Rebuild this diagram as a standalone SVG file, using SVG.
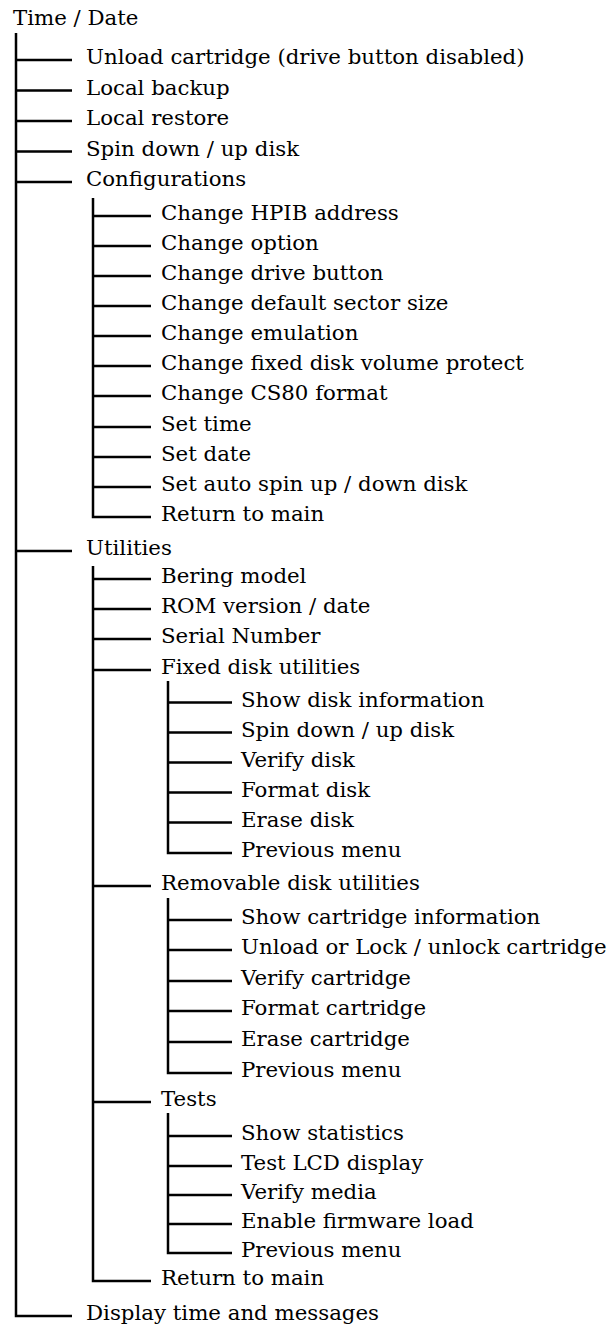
<svg xmlns="http://www.w3.org/2000/svg" width="616" height="1327" viewBox="0 0 616 1327">
<style>
text{font-family:"DejaVu Serif","Liberation Serif",serif;font-size:21.3px;fill:#000}
.c{stroke:#000;stroke-width:2.5;fill:none}
</style>
<rect width="616" height="1327" fill="#fff"/>
<g id="connectors" class="c">
<path d="M16,33V1316H72M16,60H72M16,90.5H72M16,121H72M16,151.5H72M16,182H72M16,551H72"/>
<path d="M93,198V517H151M93,216H151M93,246H151M93,276H151M93,306H151M93,336H151M93,366H151M93,396H151M93,427H151M93,457H151M93,487H151"/>
<path d="M93,566V1281H151M93,579H151M93,609H151M93,639H151M93,670H151M93,886H151M93,1102H151"/>
<path d="M168,681V853H232M168,702.5H232M168,732.5H232M168,762.5H232M168,792.5H232M168,822.5H232"/>
<path d="M168,898V1073H232M168,920H232M168,950H232M168,981H232M168,1011H232M168,1042H232"/>
<path d="M168,1113V1253H232M168,1136H232M168,1166H232M168,1195H232M168,1224H232"/>
</g>
<g id="root"><text x="13" y="25">Time / Date</text></g>
<g id="n1"><text x="86" y="64">Unload cartridge (drive button disabled)</text></g>
<g id="n2"><text x="86" y="94.5">Local backup</text></g>
<g id="n3"><text x="86" y="125">Local restore</text></g>
<g id="n4"><text x="86" y="155.5">Spin down / up disk</text></g>
<g id="n5"><text x="86" y="186">Configurations</text></g>
<g id="n5_1"><text x="161" y="220">Change HPIB address</text></g>
<g id="n5_2"><text x="161" y="250">Change option</text></g>
<g id="n5_3"><text x="161" y="280">Change drive button</text></g>
<g id="n5_4"><text x="161" y="310">Change default sector size</text></g>
<g id="n5_5"><text x="161" y="340">Change emulation</text></g>
<g id="n5_6"><text x="161" y="370">Change fixed disk volume protect</text></g>
<g id="n5_7"><text x="161" y="400">Change CS80 format</text></g>
<g id="n5_8"><text x="161" y="431">Set time</text></g>
<g id="n5_9"><text x="161" y="461">Set date</text></g>
<g id="n5_10"><text x="161" y="491">Set auto spin up / down disk</text></g>
<g id="n5_11"><text x="161" y="521">Return to main</text></g>
<g id="n6"><text x="86" y="555">Utilities</text></g>
<g id="n6_1"><text x="161" y="583">Bering model</text></g>
<g id="n6_2"><text x="161" y="613">ROM version / date</text></g>
<g id="n6_3"><text x="161" y="643">Serial Number</text></g>
<g id="n6_4"><text x="161" y="674">Fixed disk utilities</text></g>
<g id="n6_4_1"><text x="241" y="706.5">Show disk information</text></g>
<g id="n6_4_2"><text x="241" y="736.5">Spin down / up disk</text></g>
<g id="n6_4_3"><text x="241" y="766.5">Verify disk</text></g>
<g id="n6_4_4"><text x="241" y="796.5">Format disk</text></g>
<g id="n6_4_5"><text x="241" y="826.5">Erase disk</text></g>
<g id="n6_4_6"><text x="241" y="857">Previous menu</text></g>
<g id="n6_5"><text x="161" y="890">Removable disk utilities</text></g>
<g id="n6_5_1"><text x="241" y="924">Show cartridge information</text></g>
<g id="n6_5_2"><text x="241" y="954">Unload or Lock / unlock cartridge</text></g>
<g id="n6_5_3"><text x="241" y="985">Verify cartridge</text></g>
<g id="n6_5_4"><text x="241" y="1015">Format cartridge</text></g>
<g id="n6_5_5"><text x="241" y="1046">Erase cartridge</text></g>
<g id="n6_5_6"><text x="241" y="1077">Previous menu</text></g>
<g id="n6_6"><text x="161" y="1106">Tests</text></g>
<g id="n6_6_1"><text x="241" y="1140">Show statistics</text></g>
<g id="n6_6_2"><text x="241" y="1170">Test LCD display</text></g>
<g id="n6_6_3"><text x="241" y="1199">Verify media</text></g>
<g id="n6_6_4"><text x="241" y="1228">Enable firmware load</text></g>
<g id="n6_6_5"><text x="241" y="1257">Previous menu</text></g>
<g id="n6_7"><text x="161" y="1285">Return to main</text></g>
<g id="n7"><text x="86" y="1320">Display time and messages</text></g>
</svg>
